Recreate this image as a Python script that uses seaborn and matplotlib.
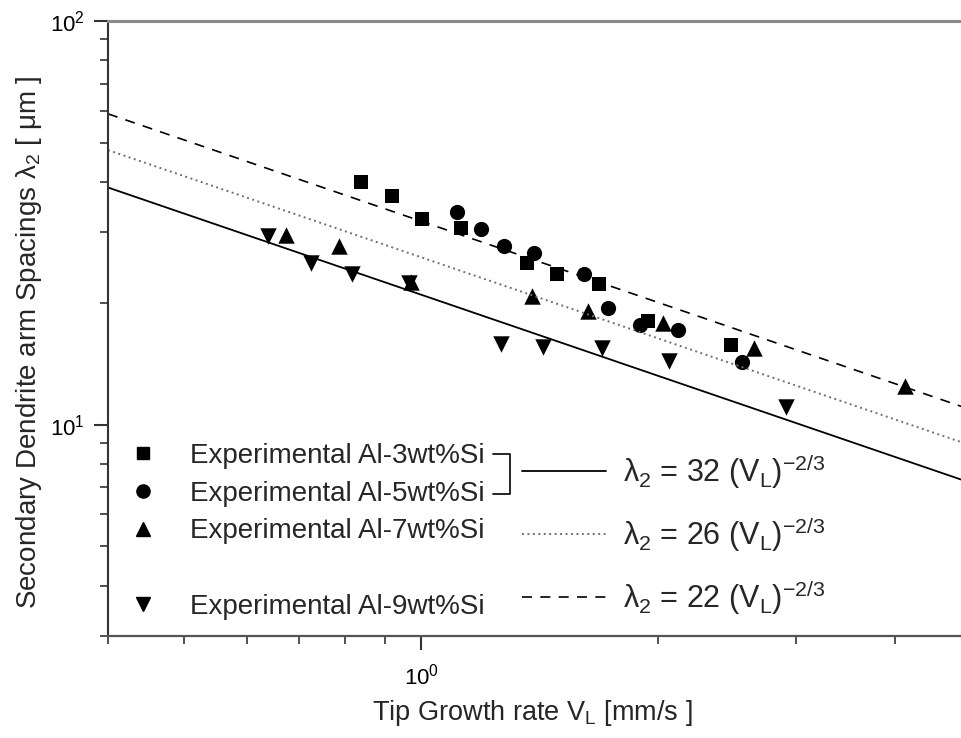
import numpy as np
import seaborn as sns
import matplotlib.pyplot as plt
from matplotlib.lines import Line2D
from matplotlib.ticker import LogLocator, NullFormatter, FixedLocator

# values (V_L in mm/s, lambda_2 in um)
al3_v = [0.839, 0.919, 1.003, 1.124, 1.364, 1.489, 1.685, 1.944, 2.480]
al3_l = [39.9, 36.8, 32.3, 30.8, 25.1, 23.7, 22.3, 18.1, 15.8]

al5_v = [1.111, 1.192, 1.275, 1.392, 1.612, 1.729, 1.899, 2.123, 2.561]
al5_l = [33.6, 30.5, 27.8, 26.7, 23.7, 19.5, 17.7, 17.2, 14.3]

al7_v = [0.673, 0.786, 0.971, 1.384, 1.631, 2.032, 2.646, 4.117]
al7_l = [29.6, 27.8, 22.6, 20.8, 19.1, 17.9, 15.5, 12.5]

al9_v = [0.639, 0.725, 0.817, 0.965, 1.264, 1.430, 1.699, 2.068, 2.913]
al9_l = [29.3, 25.2, 23.7, 22.5, 15.9, 15.6, 15.5, 14.4, 11.1]

# fitted lines, read at both ends of the x range
fit_v = [0.4, 5.0]
fit_solid = [38.7, 7.18]
fit_dotted = [47.9, 8.89]
fit_dashed = [58.9, 10.9]

series_labels = ["Experimental Al-3wt%Si", "Experimental Al-5wt%Si",
                 "Experimental Al-7wt%Si", "Experimental Al-9wt%Si"]
fit_labels = [r"λ$_2$ = 32 (V$_\mathregular{L}$)$^{-2/3}$",
              r"λ$_2$ = 26 (V$_\mathregular{L}$)$^{-2/3}$",
              r"λ$_2$ = 22 (V$_\mathregular{L}$)$^{-2/3}$"]

sns.set_style("ticks")
plt.rcParams['font.family'] = ['Liberation Sans', 'DejaVu Sans']
plt.rcParams['mathtext.fontset'] = 'custom'
plt.rcParams['mathtext.rm'] = 'Liberation Sans'
plt.rcParams['mathtext.it'] = 'Liberation Sans:italic'
plt.rcParams['mathtext.bf'] = 'Liberation Sans:bold'

W, H = 962, 738
fig = plt.figure(figsize=(W / 100, H / 100), dpi=100)
# the right part of the axes runs past the picture edge, as in the original
ax = fig.add_axes([108 / W, 102 / H, 863 / W, 615 / H])

sns.lineplot(x=fit_v, y=fit_dashed, ax=ax, color="black", lw=1.2,
             linestyle=(0, (6, 5)))
sns.lineplot(x=fit_v, y=fit_dotted, ax=ax, color="#707070", lw=1.4,
             linestyle=(0, (1, 1.8)))
sns.lineplot(x=fit_v, y=fit_solid, ax=ax, color="black", lw=1.3)

sns.scatterplot(x=al3_v, y=al3_l, ax=ax, marker="s", s=105, color="black", linewidth=0)
sns.scatterplot(x=al5_v, y=al5_l, ax=ax, marker="o", s=120, color="black", linewidth=0)
sns.scatterplot(x=al7_v, y=al7_l, ax=ax, marker="^", s=140, color="black", linewidth=0)
sns.scatterplot(x=al9_v, y=al9_l, ax=ax, marker="v", s=140, color="black", linewidth=0)

ax.set_xscale("log")
ax.set_yscale("log")
ax.set_xlim(0.4, 5.0)
ax.set_ylim(3, 100)

ax.xaxis.set_major_locator(FixedLocator([1.0]))
ax.xaxis.set_minor_locator(LogLocator(base=10, subs=np.arange(2, 10)))
ax.xaxis.set_minor_formatter(NullFormatter())
ax.yaxis.set_minor_locator(LogLocator(base=10, subs=np.arange(2, 10)))
ax.yaxis.set_minor_formatter(NullFormatter())

ax.tick_params(axis="both", which="both", left=True, bottom=True, top=False, right=False)
ax.tick_params(axis="both", which="major", direction="out", length=10, width=1.5,
               color="#333333", labelsize=16, labelcolor="black")
ax.tick_params(axis="both", which="minor", direction="out", length=6, width=1.2,
               color="#333333")
ax.tick_params(axis="x", which="major", pad=10)
ax.tick_params(axis="y", which="major", pad=7)

ax.spines["top"].set_visible(True)
ax.spines["top"].set_color("#8a8a8a")
ax.spines["top"].set_linewidth(2.2)
ax.spines["left"].set_color("#333333")
ax.spines["left"].set_linewidth(1.5)
ax.spines["bottom"].set_color("#555555")
ax.spines["bottom"].set_linewidth(1.6)
ax.spines["right"].set_visible(False)

ax.set_xlabel(r"Tip Growth rate V$_\mathregular{L}$ [mm/s ]", fontsize=19.5)
ax.xaxis.set_label_coords((532 - 108) / 863, (636 - 698) / 615)
ax.set_ylabel(r"Secondary Dendrite arm Spacings λ$_2$ [ μm ]", fontsize=20)
ax.yaxis.set_label_coords((44 - 108) / 863, (636 - 342) / 615)

# legend of the experimental series (with an empty row before Al-9)
marker_handles = [
    Line2D([], [], ls="none", marker="s", ms=8.5, color="black"),
    Line2D([], [], ls="none", marker="o", ms=9.5, color="black"),
    Line2D([], [], ls="none", marker="^", ms=10, color="black"),
    Line2D([], [], ls="none"),
    Line2D([], [], ls="none", marker="v", ms=10, color="black"),
]
marker_labels = series_labels[:3] + [" "] + series_labels[3:]
leg1 = ax.legend(marker_handles, marker_labels, loc="upper left",
                 bbox_to_anchor=(129 / W, 1 - 443 / H), bbox_transform=fig.transFigure,
                 frameon=False, fontsize=20, handlelength=1.0, handletextpad=1.2,
                 labelspacing=0.42, borderpad=0, borderaxespad=0)
ax.add_artist(leg1)

line_handles = [
    Line2D([], [], color="black", lw=1.3),
    Line2D([], [], color="#707070", lw=1.4, ls=(0, (1, 1.8))),
    Line2D([], [], color="black", lw=1.2, ls=(0, (6, 5))),
]
leg2 = ax.legend(line_handles, fit_labels, loc="upper left",
                 bbox_to_anchor=(522 / W, 1 - 452 / H), bbox_transform=fig.transFigure,
                 frameon=False, fontsize=22, handlelength=2.75, handletextpad=0.55,
                 labelspacing=0.78, borderpad=0, borderaxespad=0)

# bracket joining Al-3 and Al-5 to the solid line
bx = [493 / W, 510 / W, 510 / W, 493 / W]
by = [1 - 454 / H, 1 - 454 / H, 1 - 494 / H, 1 - 494 / H]
fig.add_artist(Line2D(bx, by, color="black", lw=1.2, transform=fig.transFigure))

fig.savefig("out.png", dpi=100)
